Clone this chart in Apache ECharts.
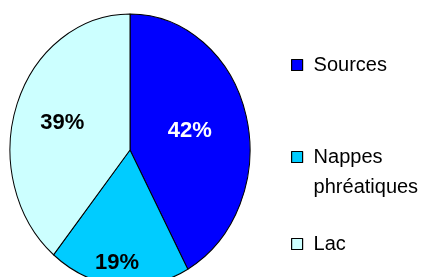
<!DOCTYPE html>
<html>
<head>
<meta charset="utf-8">
<script src="https://cdn.jsdelivr.net/npm/echarts@6/dist/echarts.min.js"></script>
<style>
  html, body { margin: 0; padding: 0; background: #fff; overflow: hidden; }
  #wrap { position: relative; width: 427px; height: 277px; overflow: hidden; }
  /* the source pie is an ellipse, so the slices are stretched vertically */
  #pie { position: absolute; left: 0; top: 0; width: 427px; height: 277px;
         transform-origin: 130px 150px; transform: scaleY(1.1333); }
  #main { position: absolute; left: 0; top: 0; width: 427px; height: 277px; }
</style>
</head>
<body>
<div id="wrap">
  <div id="pie"></div>
  <div id="main"></div>
</div>
<script>
var categories = ['Sources', 'Nappes phréatiques', 'Lac'];
var values = [42, 19, 39];

var colors = ['#0000ff', '#00ccff', '#ccffff'];
var labelColors = ['#ffffff', '#000000', '#000000'];
// nudges for the percent labels (the original has them at different depths)
var labelShift = [[-11, -1], [-6, 40], [1, -2]];
var font = 'Liberation Sans, Arial, sans-serif';

// slices (stretched chart)
var pieChart = echarts.init(document.getElementById('pie'), null, {renderer: 'svg'});
var sliceData = [];
for (var i = 0; i < categories.length; i++) {
  sliceData.push({name: categories[i], value: values[i], itemStyle: {color: colors[i]}});
}
pieChart.setOption({
  animation: false,
  series: [{
    type: 'pie',
    center: [130, 150],
    radius: 120,
    startAngle: 90,
    clockwise: true,
    silent: true,
    label: {show: false},
    labelLine: {show: false},
    itemStyle: {borderColor: '#000', borderWidth: 1},
    data: sliceData
  }]
});

// labels + legend (not stretched)
var myChart = echarts.init(document.getElementById('main'));
var labelData = [];
for (var j = 0; j < categories.length; j++) {
  labelData.push({
    name: categories[j],
    value: values[j],
    label: {color: labelColors[j]}
  });
}

function legendFor(idx, top) {
  return {
    orient: 'vertical',
    left: 291,
    top: top,
    padding: 0,
    itemWidth: 11,
    itemHeight: 11,
    icon: 'rect',
    selectedMode: false,
    formatter: function(name) {
      // two-line name: blank first line so the icon sits on "Nappes"
      return name.indexOf(' ') > 0 ? '\n' + name.replace(' ', '\n') : name;
    },
    data: [{
      name: categories[idx],
      itemStyle: {color: colors[idx], borderColor: '#000', borderWidth: 1.2, opacity: 1},
      textStyle: {fontSize: 20, fontFamily: font, color: '#000', lineHeight: 30, padding: [0, 0, 0, 6]}
    }]
  };
}

myChart.setOption({
  animation: false,
  legend: [
    legendFor(0, 50),
    legendFor(1, 112),
    legendFor(2, 229)
  ],
  series: [{
    type: 'pie',
    center: [130, 150],
    radius: 140,
    startAngle: 90,
    clockwise: true,
    silent: true,
    itemStyle: {color: 'rgba(0,0,0,0)', borderWidth: 0},
    label: {
      show: true,
      position: 'inside',
      formatter: '{c}%',
      fontSize: 22,
      fontWeight: 'bold',
      fontFamily: font
    },
    labelLine: {show: false},
    labelLayout: function(params) {
      return {dx: labelShift[params.dataIndex][0], dy: labelShift[params.dataIndex][1]};
    },
    data: labelData
  }]
});
</script>
</body>
</html>
